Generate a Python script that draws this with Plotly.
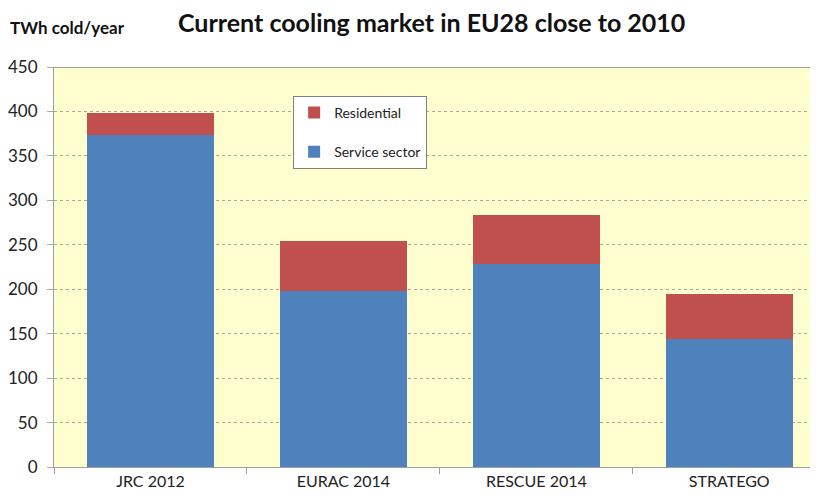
import plotly.graph_objects as go

categories = ["JRC 2012", "EURAC 2014", "RESCUE 2014", "STRATEGO"]
service_sector = [373, 198, 228, 144]
residential = [25, 56, 56, 51]
y_ticks = [0, 50, 100, 150, 200, 250, 300, 350, 400, 450]

FONT = "Lato, Open Sans, sans-serif"

fig = go.Figure()
fig.add_trace(go.Bar(x=categories, y=service_sector, name="Service sector",
                     legendgroup="s", legendrank=2,
                     marker=dict(color="#4F81BD", line=dict(width=0))))
fig.add_trace(go.Bar(x=categories, y=residential, name="Residential",
                     legendgroup="r", legendrank=1,
                     marker=dict(color="#C0504D", line=dict(width=0))))

fig.update_layout(
    width=810, height=496,
    barmode="stack", bargap=0.34,
    paper_bgcolor="white", plot_bgcolor="#FEFECE",
    margin=dict(l=43, r=0, t=59, b=37),
    font=dict(family=FONT, color="#222222", size=15),
    showlegend=True,
    legend=dict(x=0.313, y=0.9275, xanchor="left", yanchor="top",
                traceorder="grouped", bgcolor="white",
                bordercolor="#808080", borderwidth=1,
                font=dict(size=14, family=FONT),
                tracegroupgap=18, itemwidth=30),
    annotations=[
        dict(text="<b>Current cooling market in EU28 close to 2010</b>",
             xref="paper", yref="paper", x=0.494, y=1.0, yshift=45,
             xanchor="center", yanchor="middle", showarrow=False,
             font=dict(size=25, family=FONT, color="#111111")),
        dict(text="<b>TWh cold/year</b>", xref="paper", yref="paper",
             x=-0.06, y=1.0, yshift=40, xanchor="left", yanchor="middle",
             showarrow=False, font=dict(size=17, family=FONT, color="#111111")),
    ],
)
fig.update_xaxes(range=[-0.5, 3.46], showline=True, linecolor="#A0A0A0",
                 linewidth=1, ticks="outside", tickson="boundaries",
                 ticklen=6, tickcolor="#A0A0A0", showgrid=False,
                 tickfont=dict(size=16, family=FONT))
fig.update_yaxes(range=[0, 450], tickvals=y_ticks, showline=True,
                 linecolor="#A0A0A0", mirror=False, gridcolor="#A8A8A0",
                 griddash="dot", gridwidth=1, ticks="outside", ticklen=6,
                 tickcolor="#A8A8A0", tickfont=dict(size=17, family=FONT),
                 ticklabelstandoff=6, zeroline=False)
fig.add_shape(type="line", xref="paper", yref="y", x0=0, x1=1, y0=450, y1=450,
              line=dict(color="#A0A0A0", width=2))

fig.write_html("out.html")
